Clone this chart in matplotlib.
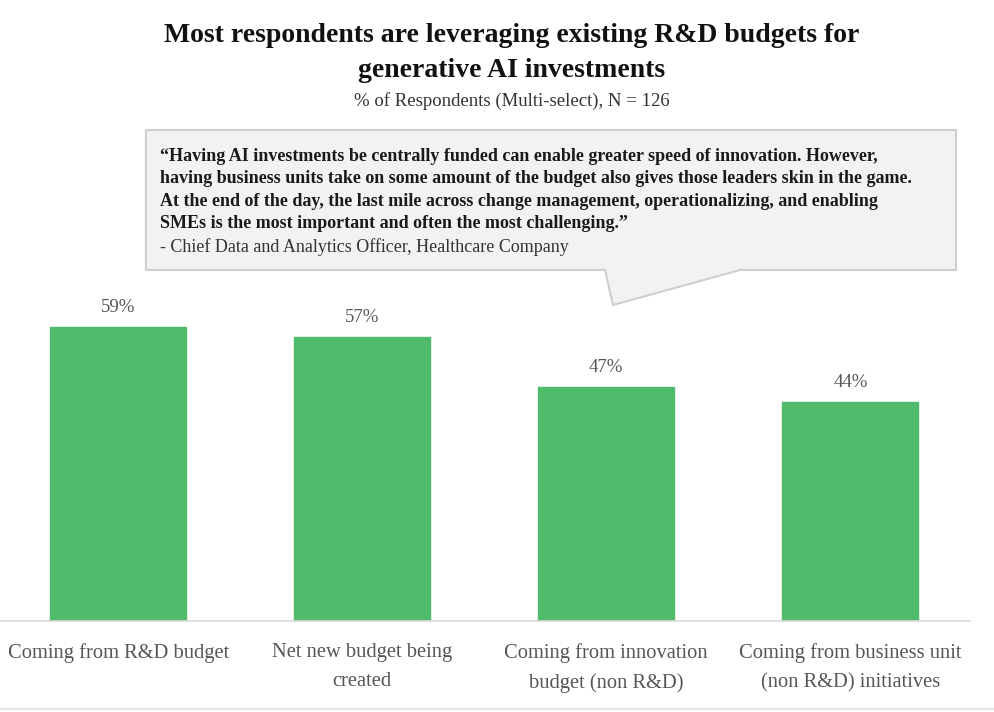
import matplotlib
matplotlib.use("Agg")
import matplotlib.pyplot as plt
from matplotlib.patches import Polygon
from matplotlib.lines import Line2D

categories = ["Coming from R&D budget", "Net new budget being\ncreated",
              "Coming from innovation\nbudget (non R&D)", "Coming from business unit\n(non R&D) initiatives"]
values = [59, 57, 47, 44]
title = "Most respondents are leveraging existing R&D budgets for\ngenerative AI investments"
subtitle = "% of Respondents (Multi-select), N = 126"
quote = ("\u201cHaving AI investments be centrally funded can enable greater speed of innovation. However,\n"
         "having business units take on some amount of the budget also gives those leaders skin in the game.\n"
         "At the end of the day, the last mile across change management, operationalizing, and enabling\n"
         "SMEs is the most important and often the most challenging.\u201d")
attribution = "- Chief Data and Analytics Officer, Healthcare Company"

W, H = 995, 712
plt.rcParams['font.family'] = ['Liberation Serif', 'DejaVu Serif']
fig = plt.figure(figsize=(W/100, H/100), dpi=100)

def fx(x): return x / W
def fy(y): return 1 - y / H

ax = fig.add_axes([0, fy(621), fx(970), (621 - 123) / H])
x = list(range(len(categories)))
ax.bar(x, values, width=0.557, color="#4fbb6b", edgecolor="#4fbb6b", zorder=2)
ax.set_xlim(-0.484, 3.49)
ax.set_ylim(0, 100)
for xi, v in zip(x, values):
    ax.text(xi, v + 2.2, f"{v}%", ha="center", va="bottom", fontsize=13.5, color="#555555")
ax.set_xticks(x)
ax.set_xticklabels(categories, fontsize=14.8, color="#555555", linespacing=1.68)
ax.tick_params(axis="x", length=0, pad=16)
ax.set_yticks([])
for s in ["top", "right", "left"]:
    ax.spines[s].set_visible(False)
ax.spines["bottom"].set_color("#d9d9d9")
ax.spines["bottom"].set_linewidth(1.2)

fig.text(fx(512), fy(53), title, ha="center", va="center", fontsize=20, fontweight="bold",
         color="#111111", linespacing=1.5)
fig.text(fx(512), fy(101), subtitle, ha="center", va="center", fontsize=13.5, color="#333333")

pts = [(146, 130), (956, 130), (956, 270), (740, 270), (613, 305), (605, 270), (146, 270)]
poly = Polygon([(fx(a), fy(b)) for a, b in pts], closed=True, transform=fig.transFigure,
               facecolor="#f2f2f2", edgecolor="#cfcfcf", linewidth=1.5, zorder=5)
fig.add_artist(poly)
fig.text(fx(160), fy(148), quote, ha="left", va="top", fontsize=13, fontweight="bold",
         color="#1a1a1a", linespacing=1.42, zorder=6)
fig.text(fx(160), fy(247), attribution, ha="left", va="center", fontsize=13,
         color="#333333", zorder=6)

fig.add_artist(Line2D([0, 1], [fy(709), fy(709)], transform=fig.transFigure, color="#e5e5e5", lw=1.5))

fig.savefig("out.png", dpi=100, facecolor="white")
